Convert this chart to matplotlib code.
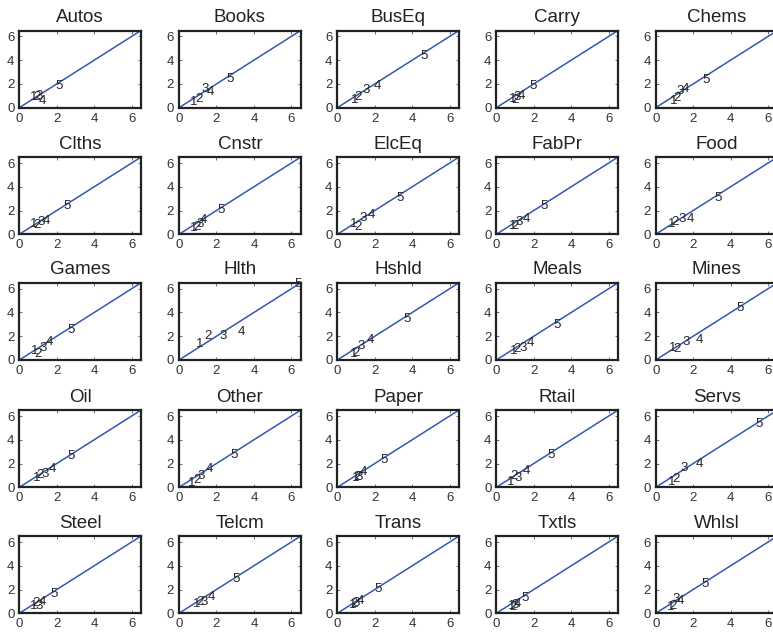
import matplotlib
matplotlib.use("Agg")
import matplotlib.pyplot as plt

plt.rcParams["font.family"] = ["Liberation Sans", "DejaVu Sans"]

industries = ["Autos", "Books", "BusEq", "Carry", "Chems",
              "Clths", "Cnstr", "ElcEq", "FabPr", "Food",
              "Games", "Hlth", "Hshld", "Meals", "Mines",
              "Oil", "Other", "Paper", "Rtail", "Servs",
              "Steel", "Telcm", "Trans", "Txtls", "Whlsl"]

# x / y position of portfolios 1..5 in each industry panel
x_pos = [
    [0.58, 0.75, 0.85, 1.06, 1.93],
    [0.60, 0.86, 1.19, 1.50, 2.54],
    [0.72, 0.92, 1.35, 1.95, 4.42],
    [0.68, 0.80, 0.94, 1.12, 1.78],
    [0.78, 0.93, 1.10, 1.37, 2.50],
    [0.57, 0.75, 0.98, 1.25, 2.36],
    [0.56, 0.74, 0.92, 1.10, 2.07],
    [0.65, 0.90, 1.17, 1.62, 3.16],
    [0.68, 0.80, 1.03, 1.39, 2.37],
    [0.66, 0.84, 1.20, 1.64, 3.12],
    [0.61, 0.80, 1.07, 1.43, 2.57],
    [0.91, 1.36, 2.14, 3.14, 6.17],
    [0.68, 0.82, 1.10, 1.59, 3.51],
    [0.75, 0.89, 1.21, 1.60, 3.03],
    [0.69, 0.96, 1.41, 2.14, 4.31],
    [0.75, 0.93, 1.20, 1.57, 2.59],
    [0.47, 0.74, 0.99, 1.44, 2.72],
    [0.77, 0.86, 0.99, 1.19, 2.28],
    [0.57, 0.77, 0.95, 1.39, 2.73],
    [0.66, 0.89, 1.34, 2.14, 5.35],
    [0.57, 0.71, 0.84, 1.02, 1.65],
    [0.72, 0.90, 1.13, 1.53, 2.85],
    [0.60, 0.68, 0.83, 1.05, 2.00],
    [0.63, 0.68, 0.80, 0.93, 1.34],
    [0.61, 0.71, 0.89, 1.11, 2.45],
]
y_pos = [
    [0.86, 0.90, 0.95, 0.58, 1.83],
    [0.50, 0.72, 1.60, 1.33, 2.44],
    [0.69, 0.92, 1.47, 1.83, 4.33],
    [0.70, 0.65, 0.87, 1.00, 1.83],
    [0.60, 0.79, 1.44, 1.58, 2.34],
    [0.84, 0.78, 1.06, 1.09, 2.37],
    [0.56, 0.64, 0.84, 1.20, 2.04],
    [0.84, 0.64, 1.34, 1.62, 3.07],
    [0.70, 0.73, 1.06, 1.28, 2.40],
    [0.84, 1.06, 1.26, 1.26, 3.07],
    [0.76, 0.51, 0.99, 1.50, 2.49],
    [1.33, 1.98, 1.98, 2.37, 6.36],
    [0.51, 0.56, 1.19, 1.69, 3.45],
    [0.76, 0.93, 0.99, 1.41, 2.97],
    [0.99, 0.93, 1.55, 1.69, 4.38],
    [0.80, 1.03, 1.08, 1.50, 2.61],
    [0.39, 0.61, 0.94, 1.58, 2.69],
    [0.75, 0.89, 0.89, 1.30, 2.28],
    [0.42, 0.94, 0.81, 1.36, 2.69],
    [0.42, 0.69, 1.64, 2.00, 5.33],
    [0.61, 0.84, 0.61, 0.98, 1.62],
    [0.78, 0.98, 0.98, 1.40, 2.85],
    [0.70, 0.78, 0.84, 1.03, 2.01],
    [0.61, 0.50, 0.70, 0.78, 1.31],
    [0.56, 0.61, 1.17, 1.06, 2.43],
]
labels = ["1", "2", "3", "4", "5"]
lim = 6.5

W, H = 773, 634
fig = plt.figure(figsize=(W / 100, H / 100), dpi=100)

col_left = [19.3, 179.0, 337.3, 496.3, 655.7]
row_bottom = [107.7, 234.3, 360.0, 487.3, 613.3]
ax_w, ax_h = 121.7, 77.2

for i, name in enumerate(industries):
    r, c = divmod(i, 5)
    ax = fig.add_axes([col_left[c] / W, 1 - row_bottom[r] / H, ax_w / W, ax_h / H])
    ax.plot([0, lim], [0, lim], color="#3657b0", lw=1.1)
    for x, y, lab in zip(x_pos[i], y_pos[i], labels):
        ax.text(x, y, lab, ha="left", va="center", fontsize=9.5, color="#262626")
    ax.set_xlim(0, lim)
    ax.set_ylim(0, lim)
    ax.set_xticks([0, 2, 4, 6])
    ax.set_yticks([0, 2, 4, 6])
    ax.tick_params(direction="in", length=2, width=0.5, top=True, right=True,
                   labelsize=9.5, pad=3.5, colors="#333333")
    for s in ax.spines.values():
        s.set_linewidth(1.6)
        s.set_color("#222222")
    ax.set_title(name, fontsize=13.5, pad=6, color="#222222")

fig.savefig("out.png", dpi=100)
